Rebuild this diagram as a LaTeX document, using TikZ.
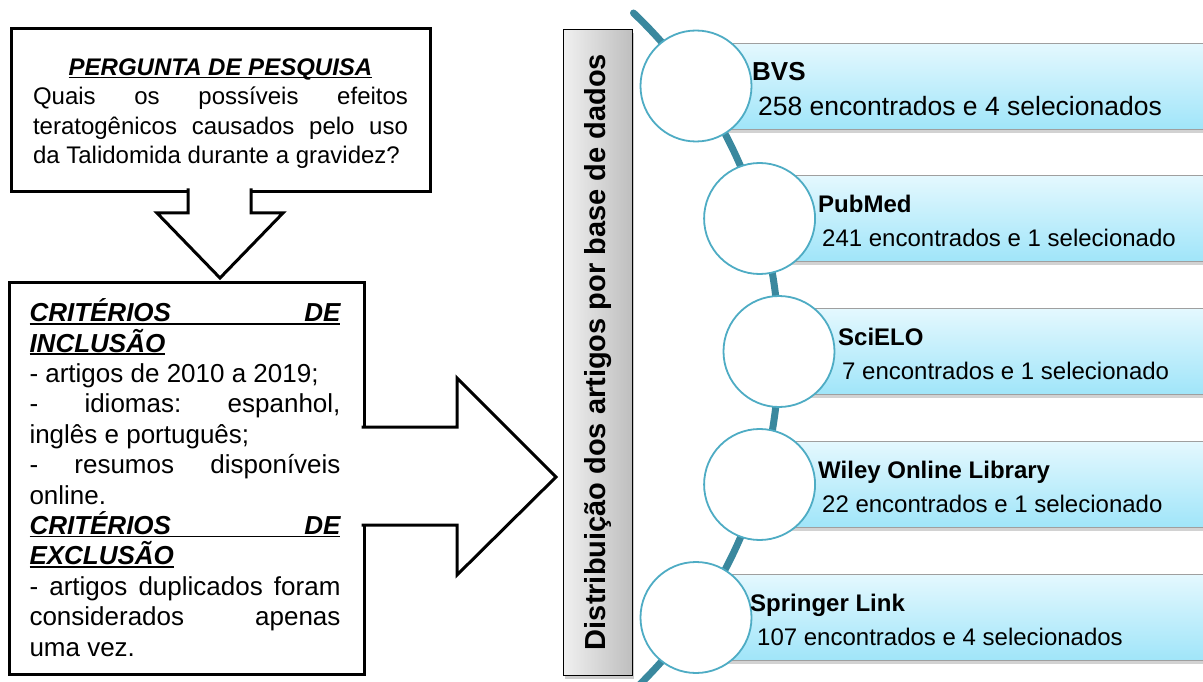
\documentclass[tikz,border=0pt]{standalone}
\usepackage{fontspec}
\setmainfont{Liberation Sans}
\usetikzlibrary{shadows}
\definecolor{tealline}{RGB}{58,136,158}
\definecolor{circline}{RGB}{78,172,196}
\definecolor{bandtop}{RGB}{228,248,254}
\definecolor{bandbot}{RGB}{160,229,249}
\definecolor{graylt}{RGB}{240,240,240}
\definecolor{graydk}{RGB}{190,190,190}
\newcommand\ulline[1]{\setbox0\hbox{#1}\hbox{\rlap{\rule[-3pt]{\wd0}{1.6pt}}\box0}}
\newcommand\jline[1]{\hbox to\linewidth{#1}}
\begin{document}
\begin{tikzpicture}[x=1pt,y=-1pt,
  frame/.style={draw=black, line width=3pt, fill=white, inner sep=0pt, anchor=north west},
  blockarrow/.style={draw=black, line width=3pt, line join=miter},
  band/.style={draw=gray!75, line width=0.8pt, top color=bandtop, bottom color=bandbot,
    anchor=north west, inner sep=0pt, minimum width=540pt, minimum height=86pt,
    drop shadow={shadow xshift=0pt, shadow yshift=-4pt, opacity=0.35}},
  dot/.style={circle, draw=circline, line width=1.8pt, fill=white, minimum size=111pt, inner sep=0pt},
  dbtitle/.style={anchor=base west, inner sep=0pt, font=\bfseries\fontsize{24}{28}\selectfont},
  dbsub/.style={anchor=base west, inner sep=0pt, font=\fontsize{24}{28}\selectfont},
  ]
\clip (0,0) rectangle (1203,682);
\fill[white] (0,0) rectangle (1203,682);

% question box
\node[frame, minimum width=419pt, minimum height=163pt] (qbox) at (10,27) {};
\node[inner sep=0pt] (qtext) at (220.5,113.5) {\parbox{375pt}{\fontsize{24}{29.5}\selectfont
  \jline{\hfil\ulline{\bfseries\itshape PERGUNTA DE PESQUISA}\hfil}
  \jline{Quais\hfill os\hfill possíveis\hfill efeitos}
  \jline{teratogênicos\hfill causados\hfill pelo\hfill uso}
  \hbox{da Talidomida durante a gravidez?}}};

% criteria box
\node[frame, minimum width=355pt, minimum height=392pt] (cbox) at (8,281) {};
\node[inner sep=0pt] (ctext) at (185,477.5) {\parbox{311pt}{\fontsize{26}{30.4}\selectfont
  \ulline{\jline{\bfseries\itshape CRITÉRIOS\hfill DE}}
  \ulline{\bfseries\itshape INCLUSÃO}
  \hbox{- artigos de 2010 a 2019;}
  \jline{-\hfill idiomas:\hfill espanhol,}
  \hbox{inglês e português;}
  \jline{-\hfill resumos\hfill disponíveis}
  \hbox{online.}
  \ulline{\jline{\bfseries\itshape CRITÉRIOS\hfill DE}}
  \ulline{\bfseries\itshape EXCLUSÃO}
  \jline{-\hfill artigos\hfill duplicados\hfill foram}
  \jline{considerados\hfill apenas}
  \hbox{uma vez.}}};

% down block arrow
\fill[white] (188,186) -- (188,213) -- (157,213) -- (220,277) -- (283,213) -- (251,213) -- (251,186) -- cycle;
\draw[blockarrow] (188,188.5) -- (188,213) -- (157,213) -- (220,278) -- (283,213) -- (251,213) -- (251,188.5);

% right block arrow
\fill[white] (359,427) -- (457,427) -- (457,378) -- (556,477) -- (457,575) -- (457,525) -- (359,525) -- cycle;
\draw[blockarrow] (361.5,427) -- (457,427) -- (457,378) -- (556,477) -- (457,575) -- (457,525) -- (361.5,525);

% vertical gray label
\node[draw=black, line width=1.2pt, left color=graylt, right color=graydk, anchor=north west,
  minimum width=69pt, minimum height=646pt, inner sep=0pt,
  drop shadow={shadow xshift=1pt, shadow yshift=-3pt, opacity=0.4}] (dist) at (563,29) {};
\node[rotate=90, inner sep=0pt, font=\bfseries\fontsize{29}{32}\selectfont] (disttext) at (598,352) {Distribuição dos artigos por base de dados};

% timeline arc
\draw[tealline, line width=7pt, line cap=round] (633.5,13) arc[start angle=-46.5, end angle=50, radius=467];

% bands
\node[band] (b1) at (696,43) {};
\node[band] (b2) at (759.6,175) {};
\node[band] (b3) at (779,308) {};
\node[band] (b4) at (759.6,441) {};
\node[band] (b5) at (696,574) {};

% circles
\node[dot] (c1) at (696,86) {};
\node[dot] (c2) at (759.6,218.5) {};
\node[dot] (c3) at (779,351.5) {};
\node[dot] (c4) at (759.6,484.5) {};
\node[dot] (c5) at (696,617.5) {};

% band texts
\node[dbtitle, font=\bfseries\fontsize{26}{30}\selectfont] (t1) at (752,81) {BVS};
\node[dbsub, font=\fontsize{26.5}{30}\selectfont] (s1) at (758,115.5) {258 encontrados e 4 selecionados};
\node[dbtitle] (t2) at (818,212) {PubMed};
\node[dbsub] (s2) at (822,246) {241 encontrados e 1 selecionado};
\node[dbtitle] (t3) at (838,345) {SciELO};
\node[dbsub] (s3) at (842,379) {7 encontrados e 1 selecionado};
\node[dbtitle] (t4) at (818,478) {Wiley Online Library};
\node[dbsub] (s4) at (822,512) {22 encontrados e 1 selecionado};
\node[dbtitle] (t5) at (750,611) {Springer Link};
\node[dbsub] (s5) at (757,645) {107 encontrados e 4 selecionados};
\end{tikzpicture}
\end{document}
